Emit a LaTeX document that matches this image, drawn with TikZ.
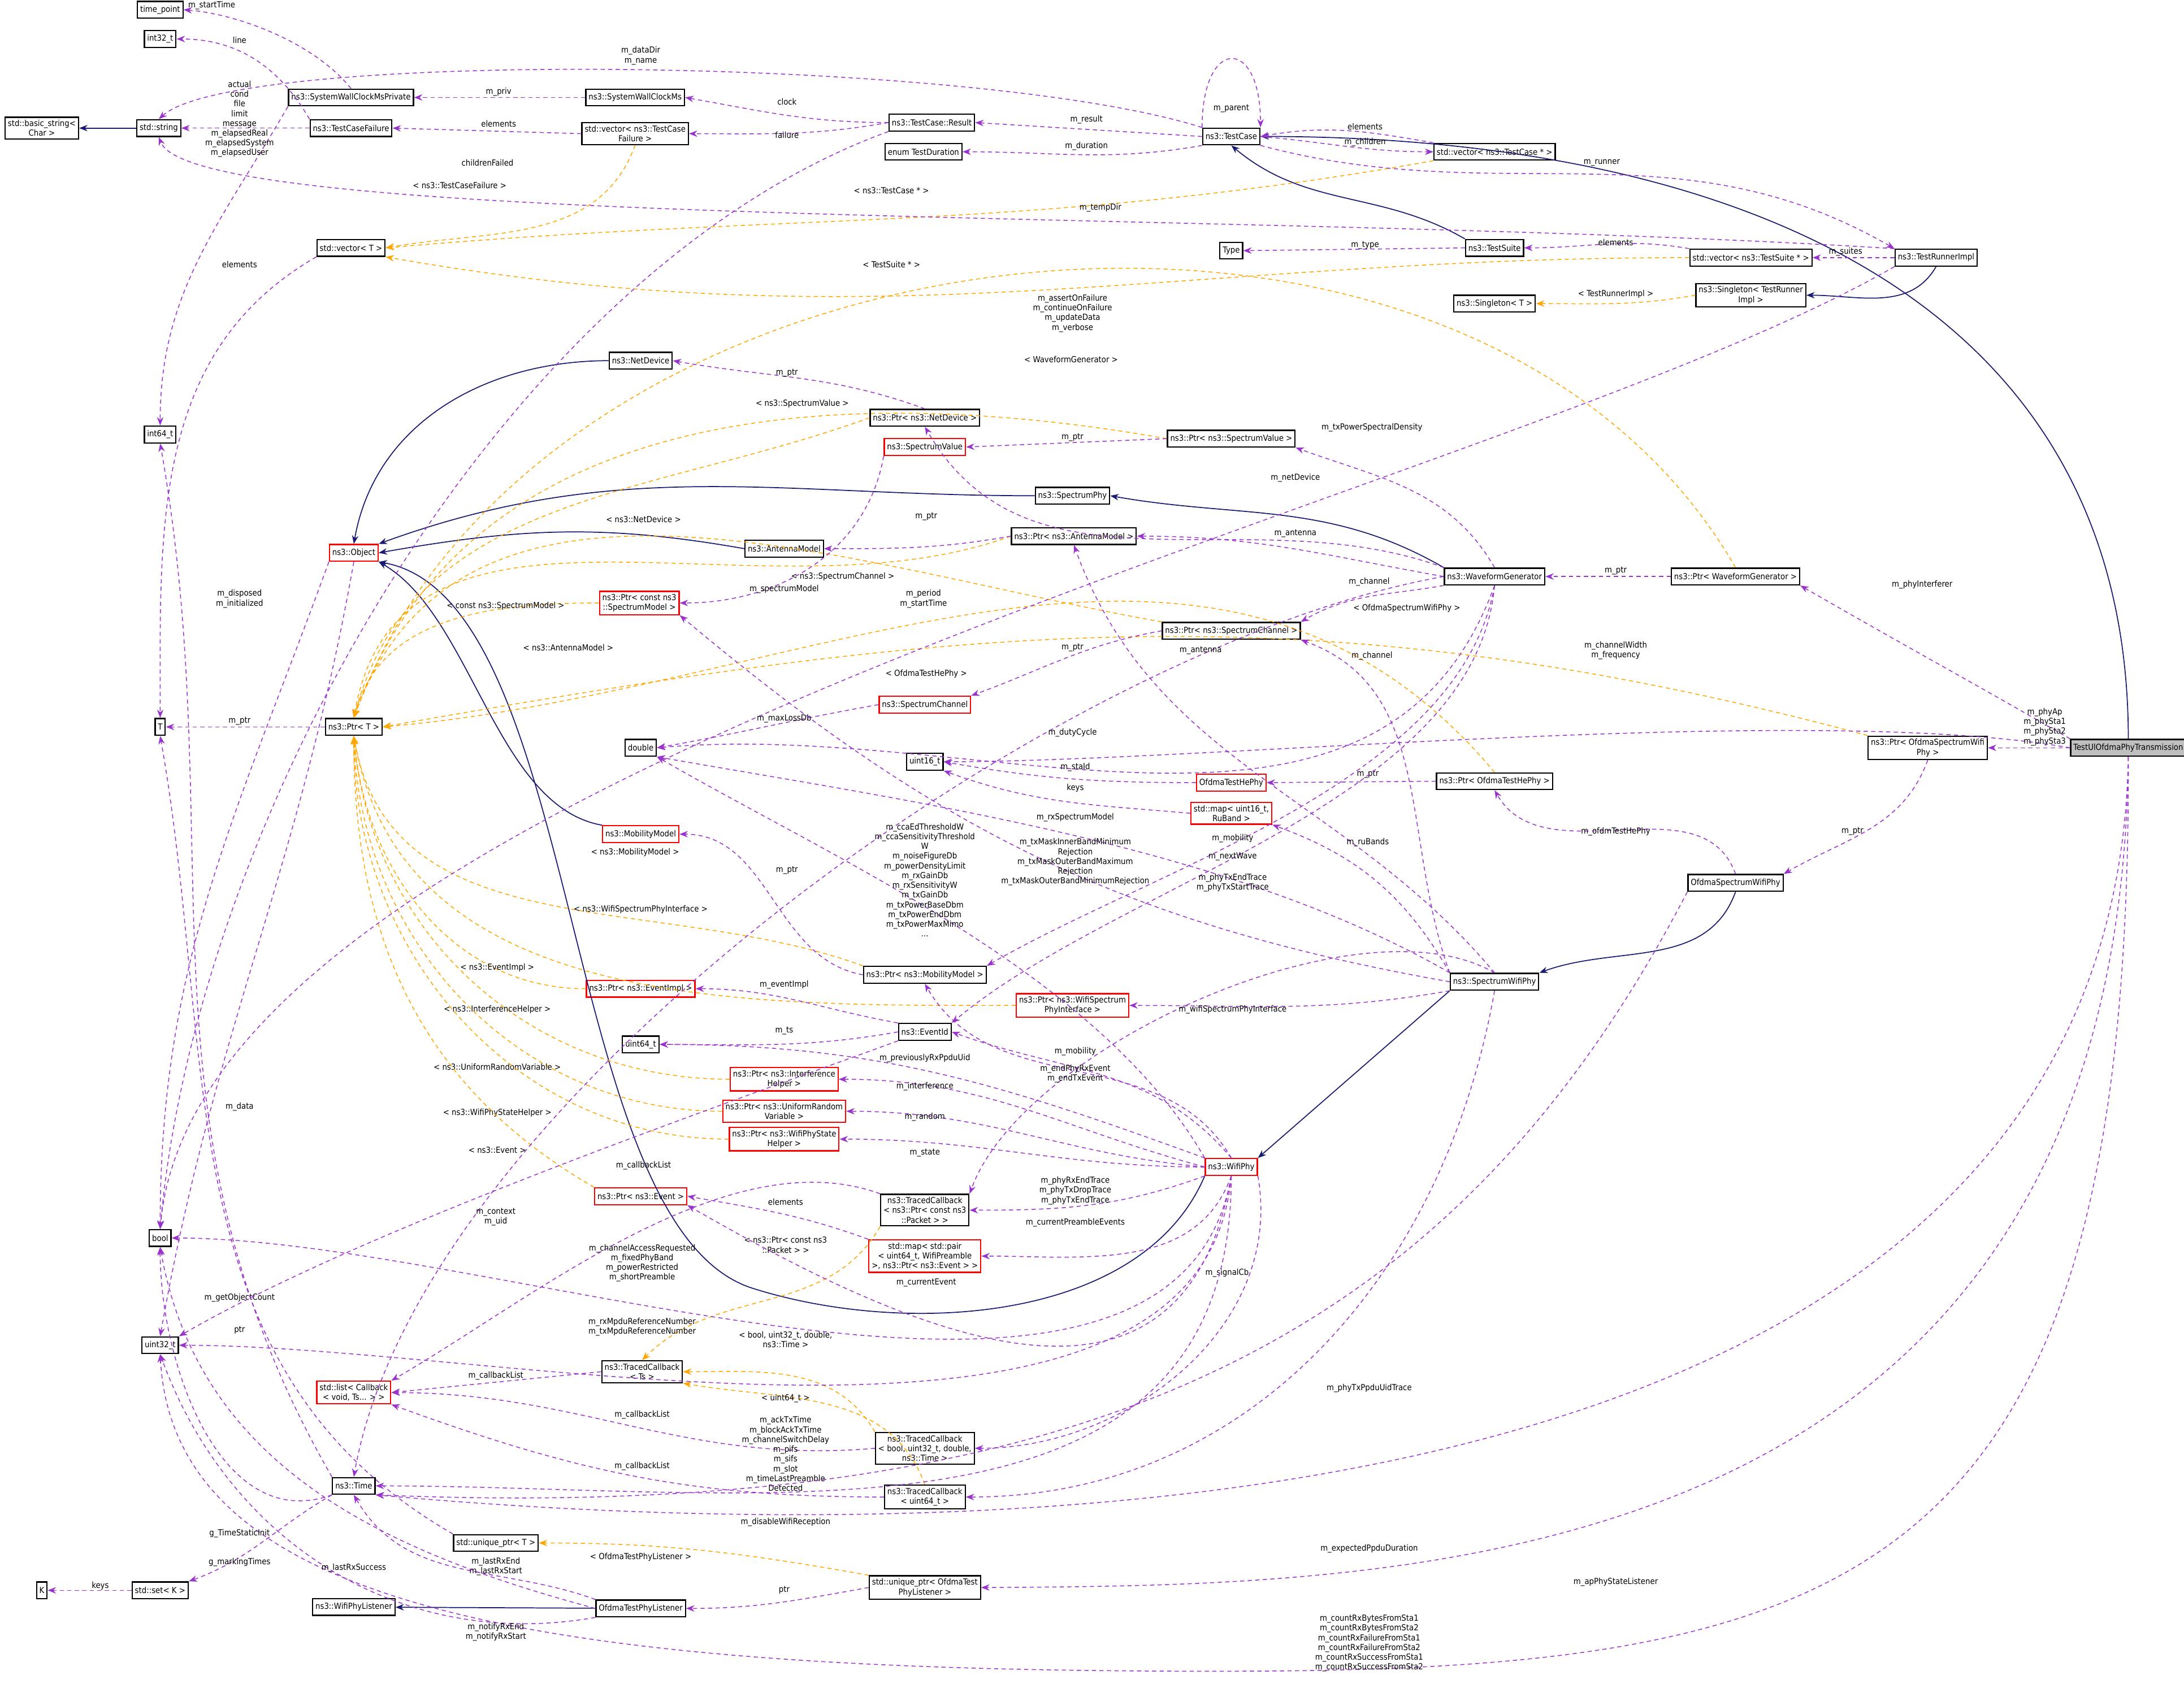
\documentclass[tikz,border=0pt]{standalone}
\usepackage{fontspec}
\setmainfont{DejaVu Sans Condensed}
\usepackage{xcolor}
\usetikzlibrary{arrows.meta}

\definecolor{memc}{HTML}{9A32CD}
\definecolor{tplc}{HTML}{FFA500}
\definecolor{inhc}{HTML}{191970}

\tikzset{
  cls/.style={rectangle,draw=black,line width=0.45pt,fill=white,inner sep=1pt,minimum height=6pt,align=center,font=\fontsize{3.0}{3.5}\selectfont},
  redcls/.style={cls,draw=red},
  rootcls/.style={cls,fill=black!25},
  lbl/.style={align=center,font=\fontsize{3.0}{3.5}\selectfont,inner sep=0.3pt},
  mem/.style={draw=memc,dashed,dash pattern=on 1.5pt off 1.2pt,line width=0.3pt,-{Stealth[length=3pt,width=2.3pt]}},
  tpl/.style={draw=tplc,dashed,dash pattern=on 1.5pt off 1.2pt,line width=0.3pt,-{Stealth[length=3pt,width=2.3pt]}},
  inh/.style={draw=inhc,line width=0.35pt,-{Stealth[length=3pt,width=2.3pt]}}
}

\begin{document}
\begin{tikzpicture}[x=0.5pt,y=-0.5pt]
\useasboundingbox (0,0) rectangle (1568,1209);

\begin{scope}[every node/.style={cls}]
    \node (tpt) at (115,7) {time\_point};
    \node (i32) at (115,28) {int32\_t};
    \node (bstr) at (30,92) {std::basic\_string<\\Char >};
    \node (str) at (114,92) {std::string};
    \node (swcp) at (252,70) {ns3::SystemWallClockMsPrivate};
    \node (tcf) at (252,92) {ns3::TestCaseFailure};
    \node (swc) at (456,70) {ns3::SystemWallClockMs};
    \node (vtcf) at (456,96) {std::vector< ns3::TestCase\\Failure >};
    \node (vt) at (252,178) {std::vector< T >};
    \node (res) at (669,88) {ns3::TestCase::Result};
    \node (dur) at (663,109) {enum TestDuration};
    \node (tc) at (884,98) {ns3::TestCase};
    \node (vtc) at (1073,109) {std::vector< ns3::TestCase * >};
    \node (typ) at (884,180) {Type};
    \node (ts) at (1073,178) {ns3::TestSuite};
    \node (vts) at (1257,185) {std::vector< ns3::TestSuite * >};
    \node (tri) at (1390,185) {ns3::TestRunnerImpl};
    \node (sgtr) at (1257,212) {ns3::Singleton< TestRunner\\Impl >};
    \node (sgt) at (1073,218) {ns3::Singleton< T >};
    \node (nd) at (460,259) {ns3::NetDevice};
    \node (i64) at (115,312) {int64\_t};
    \node (pnd) at (664,300) {ns3::Ptr< ns3::NetDevice >};
    \node[redcls] (sv) at (664,321) {ns3::SpectrumValue};
    \node (psv) at (884,315) {ns3::Ptr< ns3::SpectrumValue >};
    \node (sp) at (770,356) {ns3::SpectrumPhy};
    \node (am) at (563,394) {ns3::AntennaModel};
    \node (pam) at (771,385) {ns3::Ptr< ns3::AntennaModel >};
    \node[redcls] (obj) at (254,397) {ns3::Object};
    \node[redcls] (psm) at (459,433) {ns3::Ptr< const ns3\\::SpectrumModel >};
    \node (wg) at (1073,414) {ns3::WaveformGenerator};
    \node (pwg) at (1246,414) {ns3::Ptr< WaveformGenerator >};
    \node (psc) at (884,453) {ns3::Ptr< ns3::SpectrumChannel >};
    \node[redcls] (sc) at (664,506) {ns3::SpectrumChannel};
    \node (t) at (115,522) {T};
    \node (pt) at (254,522) {ns3::Ptr< T >};
    \node (dbl) at (460,537) {double};
    \node (u16) at (664,547) {uint16\_t};
    \node (posw) at (1384,537) {ns3::Ptr< OfdmaSpectrumWifi\\Phy >};
    \node[rootcls] (tu) at (1528,537) {TestUlOfdmaPhyTransmission};
    \node[redcls] (othp) at (884,562) {OfdmaTestHePhy};
    \node (pothp) at (1073,561) {ns3::Ptr< OfdmaTestHePhy >};
    \node[redcls] (rub) at (884,584) {std::map< uint16\_t,\\RuBand >};
    \node[redcls] (mm) at (460,599) {ns3::MobilityModel};
    \node (osw) at (1246,634) {OfdmaSpectrumWifiPhy};
    \node (pmm) at (664,700) {ns3::Ptr< ns3::MobilityModel >};
    \node (swp) at (1073,705) {ns3::SpectrumWifiPhy};
    \node[redcls] (pei) at (460,710) {ns3::Ptr< ns3::EventImpl >};
    \node[redcls] (pwsi) at (770,722) {ns3::Ptr< ns3::WifiSpectrum\\PhyInterface >};
    \node (u64) at (460,750) {uint64\_t};
    \node (eid) at (664,741) {ns3::EventId};
    \node[redcls] (pih) at (563,775) {ns3::Ptr< ns3::Interference\\Helper >};
    \node[redcls] (purv) at (563,798) {ns3::Ptr< ns3::UniformRandom\\Variable >};
    \node[redcls] (psh) at (563,818) {ns3::Ptr< ns3::WifiPhyState\\Helper >};
    \node[redcls] (wp) at (884,838) {ns3::WifiPhy};
    \node (bool) at (115,889) {bool};
    \node[redcls] (pev) at (460,859) {ns3::Ptr< ns3::Event >};
    \node (tcpk) at (664,869) {ns3::TracedCallback\\< ns3::Ptr< const ns3\\::Packet > >};
    \node[redcls] (mpre) at (664,902) {std::map< std::pair\\< uint64\_t, WifiPreamble\\>, ns3::Ptr< ns3::Event > >};
    \node (u32) at (115,966) {uint32\_t};
    \node (tcts) at (461,985) {ns3::TracedCallback\\< Ts >};
    \node[redcls] (lst) at (254,1000) {std::list< Callback\\< void, Ts... > >};
    \node (tcb) at (664,1040) {ns3::TracedCallback\\< bool, uint32\_t, double,\\ ns3::Time >};
    \node (tcu) at (664,1075) {ns3::TracedCallback\\< uint64\_t >};
    \node (tim) at (254,1067) {ns3::Time};
    \node (upt) at (356,1108) {std::unique\_ptr< T >};
    \node (upl) at (664,1140) {std::unique\_ptr< OfdmaTest\\PhyListener >};
    \node (k) at (30,1142) {K};
    \node (sk) at (115,1142) {std::set< K >};
    \node (wpl) at (254,1154) {ns3::WifiPhyListener};
    \node (otpl) at (460,1155) {OfdmaTestPhyListener};
\end{scope}

% inheritance
\begin{scope}[every path/.style={inh}]
    \draw (str) -- (bstr);
    \draw (tu.north) to[out=90,in=0,looseness=1.1] (tc.east);
    \draw (ts.north west) to[out=150,in=-40] (tc.south);
    \draw (tri.south) to[out=-120,in=0] (sgtr.east);
    \draw (nd.west) to[out=180,in=80] (obj.north);
    \draw (sp.west) to[out=180,in=20] (obj.north east);
    \draw (am.west) to[out=170,in=10] (obj.east);
    \draw (wg.north west) to[out=150,in=-10] (sp.east);
    \draw (mm.north west) to[out=170,in=-30,looseness=0.8] (obj.south east);
    \draw (wp.south west) .. controls (820,950) and (650,960) .. (540,925) .. controls (400,880) and (420,430) .. (obj.south east);
    \draw (swp.south west) -- (wp.north east);
    \draw (osw.south) to[out=-110,in=20] (swp.north east);
    \draw (otpl) -- (wpl);
\end{scope}

% templates
\begin{scope}[every path/.style={tpl}]
    \draw (vtcf.south) to[out=-110,in=10] (vt.east) node[lbl] at (330,133) {< ns3::TestCaseFailure >};
    \draw (vtc.south west) to[out=190,in=5] (vt.east) node[lbl] at (640,137) {< ns3::TestCase * >};
    \draw (vts.west) to[out=180,in=-10] (vt.south east) node[lbl] at (640,190) {< TestSuite * >};
    \draw (sgtr.west) to[out=190,in=0] (sgt.east) node[lbl] at (1160,211) {< TestRunnerImpl >};
    \draw (pwg.north) to[out=120,in=70] (pt.north) node[lbl] at (769,258) {< WaveformGenerator >};
    \draw (psv.west) to[out=170,in=70] (pt.north) node[lbl] at (576,290) {< ns3::SpectrumValue >};
    \draw (pnd.west) to[out=200,in=75] (pt.north) node[lbl] at (462,373) {< ns3::NetDevice >};
    \draw (psc.north west) to[out=170,in=70] (pt.north) node[lbl] at (605,414) {< ns3::SpectrumChannel >};
    \draw (psm.west) to[out=180,in=75] (pt.north) node[lbl] at (363,435) {< const ns3::SpectrumModel >};
    \draw (posw.north west) to[out=165,in=10] (pt.east) node[lbl] at (1010,437) {< OfdmaSpectrumWifiPhy >};
    \draw (pam.west) to[out=200,in=80] (pt.north) node[lbl] at (408,465) {< ns3::AntennaModel >};
    \draw (pothp.north) to[out=130,in=5] (pt.east) node[lbl] at (665,484) {< OfdmaTestHePhy >};
    \draw (pmm.north west) to[out=160,in=-80] (pt.south) node[lbl] at (456,612) {< ns3::MobilityModel >};
    \draw (pwsi.west) to[out=180,in=-80] (pt.south) node[lbl] at (460,653) {< ns3::WifiSpectrumPhyInterface >};
    \draw (pei.west) to[out=180,in=-85] (pt.south) node[lbl] at (357,695) {< ns3::EventImpl >};
    \draw (pih.west) to[out=180,in=-85] (pt.south) node[lbl] at (357,725) {< ns3::InterferenceHelper >};
    \draw (purv.west) to[out=180,in=-88] (pt.south) node[lbl] at (357,766) {< ns3::UniformRandomVariable >};
    \draw (psh.west) to[out=180,in=-90] (pt.south) node[lbl] at (357,799) {< ns3::WifiPhyStateHelper >};
    \draw (pev.north west) to[out=150,in=-90] (pt.south) node[lbl] at (357,826) {< ns3::Event >};
    \draw (tcpk.south west) to[out=-120,in=45] (tcts.north) node[lbl] at (564,894) {< ns3::Ptr< const ns3\\::Packet > >};
    \draw (tcb.north west) to[out=120,in=0] (tcts.east) node[lbl] at (564,962) {< bool, uint32\_t, double,\\ns3::Time >};
    \draw (tcu.north) to[out=110,in=-10] (tcts.south east) node[lbl] at (564,1004) {< uint64\_t >};
    \draw (upl.north west) to[out=170,in=0] (upt.east) node[lbl] at (460,1118) {< OfdmaTestPhyListener >};
\end{scope}

% members
\begin{scope}[every path/.style={mem}]
    \draw (swcp.north) .. controls (225,30) and (170,10) .. (tpt.east) node[lbl] at (152,4) {m\_startTime};
    \draw (tcf.north west) to[out=120,in=0] (i32.east) node[lbl] at (172,29) {line};
    \draw (tc.north west) .. controls (700,40) and (170,35) .. (str.north) node[lbl] at (460,40) {m\_dataDir\\m\_name};
    \draw (tcf.west) -- (str.east) node[lbl] at (172,75) {actual\\cond\\file\\limit\\message};
    \draw (swcp.south west) to[out=-120,in=90] (i64.north) node[lbl] at (172,103) {m\_elapsedReal\\m\_elapsedSystem\\m\_elapsedUser};
    \draw (swc) -- (swcp) node[lbl] at (358,66) {m\_priv};
    \draw (vtcf.west) -- (tcf.east) node[lbl] at (358,89) {elements};
    \draw (res.west) to[out=180,in=-10] (swc.east) node[lbl] at (565,73) {clock};
    \draw (res.west) to[out=190,in=0] (vtcf.east) node[lbl] at (565,97) {failure};
    \draw (res.south west) to[out=200,in=85,looseness=0.8] (bool.north) node[lbl] at (350,117) {childrenFailed};
    \draw (tc.west) -- (res.east) node[lbl] at (780,86) {m\_result};
    \draw (tc.south west) to[out=190,in=0] (dur.east) node[lbl] at (780,105) {m\_duration};
    \draw (tc.north west) to[out=90,in=90,looseness=4] (tc.north east) node[lbl] at (884,78) {m\_parent};
    \draw (vtc.north west) to[out=170,in=10] (tc.east) node[lbl] at (980,91) {elements};
    \draw (tc.east) to[out=-5,in=180] (vtc.west) node[lbl] at (980,102) {m\_children};
    \draw (tc.south east) to[out=-15,in=150] (tri.north west) node[lbl] at (1150,117) {m\_runner};
    \draw (tri.north west) .. controls (900,150) and (140,165) .. (str.south) node[lbl] at (790,149) {m\_tempDir};
    \draw (ts.west) -- (typ.east) node[lbl] at (980,176) {m\_type};
    \draw (vts.north west) to[out=170,in=0] (ts.east) node[lbl] at (1160,174) {elements};
    \draw (tri.west) -- (vts.east) node[lbl] at (1325,181) {m\_suites};
    \draw (tri.south west) to[out=-150,in=85,looseness=0.6] (bool.north) node[lbl] at (770,225) {m\_assertOnFailure\\m\_continueOnFailure\\m\_updateData\\m\_verbose};
    \draw (vt.south west) to[out=-150,in=90] (t.north) node[lbl] at (172,190) {elements};
    \draw (pnd.north) to[out=160,in=-10] (nd.east) node[lbl] at (565,268) {m\_ptr};
    \draw (psv.west) -- (sv.east) node[lbl] at (770,314) {m\_ptr};
    \draw (wg.north) to[out=120,in=-20] (psv.south east) node[lbl] at (985,307) {m\_txPowerSpectralDensity};
    \draw (wg.north west) to[out=160,in=-60] (pnd.south) node[lbl] at (930,343) {m\_netDevice};
    \draw (wg.west) to[out=170,in=0] (pam.east) node[lbl] at (930,383) {m\_antenna};
    \draw (pam.west) to[out=190,in=0] (am.east) node[lbl] at (665,371) {m\_ptr};
    \draw (sv.south west) to[out=-100,in=0] (psm.east) node[lbl] at (563,423) {m\_spectrumModel};
    \draw (obj.south west) to[out=-110,in=90] (bool.north) node[lbl] at (172,430) {m\_disposed\\m\_initialized};
    \draw (obj.south) to[out=-100,in=80] (u32.north) node[lbl] at (172,932) {m\_getObjectCount};
    \draw (wg.south west) to[out=190,in=30] (psc.north east) node[lbl] at (983,418) {m\_channel};
    \draw (pwg.west) -- (wg.east) node[lbl] at (1160,410) {m\_ptr};
    \draw (tu.north west) to[out=150,in=-30] (pwg.south east) node[lbl] at (1380,420) {m\_phyInterferer};
    \draw (wg.west) to[out=190,in=80,looseness=0.7] (tim.north) node[lbl] at (663,430) {m\_period\\m\_startTime};
    \draw (psc.west) to[out=190,in=20] (sc.north east) node[lbl] at (770,465) {m\_ptr};
    \draw (swp.north west) to[out=110,in=-20] (psc.south east) node[lbl] at (985,471) {m\_channel};
    \draw (swp.north) to[out=130,in=-70] (pam.south) node[lbl] at (862,467) {m\_antenna};
    \draw (tu.west) to[out=170,in=0,looseness=0.6] (u16.east) node[lbl] at (1160,467) {m\_channelWidth\\m\_frequency};
    \draw (pt.west) -- (t.east) node[lbl] at (172,518) {m\_ptr};
    \draw (sc.west) to[out=190,in=10] (dbl.east) node[lbl] at (563,516) {m\_maxLossDb};
    \draw (wg.south) to[out=-110,in=5] (dbl.east) node[lbl] at (770,526) {m\_dutyCycle};
    \draw (tu.west) -- (posw.east) node[lbl] at (1468,522) {m\_phyAp\\m\_phySta1\\m\_phySta2\\m\_phySta3};
    \draw (posw.south) to[out=-110,in=30] (osw.north east) node[lbl] at (1330,597) {m\_ptr};
    \draw (othp.west) to[out=180,in=-10] (u16.east) node[lbl] at (772,551) {m\_staId};
    \draw (rub.west) to[out=175,in=-20] (u16.south east) node[lbl] at (772,566) {keys};
    \draw (pothp.west) -- (othp.east) node[lbl] at (982,556) {m\_ptr};
    \draw (osw.north) to[out=110,in=-60] (pothp.south) node[lbl] at (1160,597) {m\_ofdmTestHePhy};
    \draw (swp.north west) to[out=120,in=-20] (rub.south east) node[lbl] at (982,605) {m\_ruBands};
    \draw (wg.south) to[out=-100,in=30,looseness=0.8] (pmm.north east) node[lbl] at (885,602) {m\_mobility};
    \draw (swp.west) to[out=170,in=-40] (psm.south east) node[lbl] at (772,587) {m\_rxSpectrumModel};
    \draw (wg.south) to[out=-95,in=40,looseness=0.8] (eid.north east) node[lbl] at (885,615) {m\_nextWave};
    \draw (wp.north west) to[out=120,in=-30,looseness=0.8] (dbl.south east) node[lbl] at (664,632) {m\_ccaEdThresholdW\\m\_ccaSensitivityThreshold\\W\\m\_noiseFigureDb\\m\_powerDensityLimit\\m\_rxGainDb\\m\_rxSensitivityW\\m\_txGainDb\\m\_txPowerBaseDbm\\m\_txPowerEndDbm\\m\_txPowerMaxMimo\\...};
    \draw (swp.north west) to[out=150,in=-10,looseness=0.8] (dbl.south east) node[lbl] at (772,619) {m\_txMaskInnerBandMinimum\\Rejection\\m\_txMaskOuterBandMaximum\\Rejection\\m\_txMaskOuterBandMinimumRejection};
    \draw (swp.north) to[out=150,in=70,looseness=0.7] (tcpk.north east) node[lbl] at (885,634) {m\_phyTxEndTrace\\m\_phyTxStartTrace};
    \draw (pmm.west) to[out=170,in=0] (mm.east) node[lbl] at (565,625) {m\_ptr};
    \draw (swp.south west) to[out=190,in=0] (pwsi.east) node[lbl] at (885,725) {m\_wifiSpectrumPhyInterface};
    \draw (eid.north west) to[out=170,in=0] (pei.east) node[lbl] at (563,707) {m\_eventImpl};
    \draw (eid.west) to[out=190,in=0] (u64.east) node[lbl] at (563,740) {m\_ts};
    \draw (wp.north) to[out=120,in=-60] (pmm.south) node[lbl] at (772,755) {m\_mobility};
    \draw (wp.north) to[out=130,in=-20] (eid.east) node[lbl] at (772,771) {m\_endPhyRxEvent\\m\_endTxEvent};
    \draw (wp.north west) to[out=160,in=0] (u64.east) node[lbl] at (664,760) {m\_previouslyRxPpduUid};
    \draw (wp.west) to[out=165,in=0] (pih.east) node[lbl] at (664,780) {m\_interference};
    \draw (wp.west) to[out=175,in=0] (purv.east) node[lbl] at (664,802) {m\_random};
    \draw (wp.west) to[out=180,in=0] (psh.east) node[lbl] at (664,828) {m\_state};
    \draw (tcpk.north west) to[out=160,in=30,looseness=0.8] (lst.north east) node[lbl] at (462,837) {m\_callbackList};
    \draw (wp.south west) to[out=200,in=0] (tcpk.east) node[lbl] at (772,855) {m\_phyRxEndTrace\\m\_phyTxDropTrace\\m\_phyTxEndTrace};
    \draw (mpre.north west) to[out=160,in=-10] (pev.east) node[lbl] at (564,863) {elements};
    \draw (wp.south) to[out=-110,in=0] (mpre.east) node[lbl] at (772,878) {m\_currentPreambleEvents};
    \draw (wp.south) to[out=-100,in=-30,looseness=1.3] (pev.south east) node[lbl] at (665,921) {m\_currentEvent};
    \draw (eid.south west) to[out=200,in=30,looseness=0.7] (u32.north east) node[lbl] at (356,874) {m\_context\\m\_uid};
    \draw (wp.south) to[out=-100,in=0,looseness=0.8] (bool.east) node[lbl] at (461,907) {m\_channelAccessRequested\\m\_fixedPhyBand\\m\_powerRestricted\\m\_shortPreamble};
    \draw (wp.south) to[out=-95,in=0,looseness=0.8] (u32.east) node[lbl] at (461,953) {m\_rxMpduReferenceNumber\\m\_txMpduReferenceNumber};
    \draw (upt.north west) to[out=150,in=-80] (t.south) node[lbl] at (172,955) {ptr};
    \draw (tcts.west) -- (lst.east) node[lbl] at (356,988) {m\_callbackList};
    \draw (tcb.west) to[out=185,in=0] (lst.east) node[lbl] at (461,1016) {m\_callbackList};
    \draw (tcu.west) to[out=180,in=-20] (lst.south east) node[lbl] at (461,1053) {m\_callbackList};
    \draw (wp.south east) to[out=-80,in=0] (tcb.east) node[lbl] at (881,914) {m\_signalCb};
    \draw (wp.south) to[out=-90,in=0,looseness=1.1] (tim.east) node[lbl] at (564,1044) {m\_ackTxTime\\m\_blockAckTxTime\\m\_channelSwitchDelay\\m\_pifs\\m\_sifs\\m\_slot\\m\_timeLastPreamble\\Detected};
    \draw (swp.south) to[out=-100,in=0] (tcu.east) node[lbl] at (983,997) {m\_phyTxPpduUidTrace};
    \draw (osw.south west) .. controls (1050,950) and (800,1095) .. (tim.south east) node[lbl] at (564,1093) {m\_disableWifiReception};
    \draw (tu.south) .. controls (1518,1110) and (700,1112) .. (tim.south east) node[lbl] at (983,1112) {m\_expectedPpduDuration};
    \draw (tu.south) .. controls (1522,1140) and (1000,1138) .. (upl.east) node[lbl] at (1160,1136) {m\_apPhyStateListener};
    \draw (tu.south) .. controls (1530,1120) and (1350,1198) .. (900,1200) .. controls (400,1202) and (125,1160) .. (u32.south) node[lbl] at (983,1180) {m\_countRxBytesFromSta1\\m\_countRxBytesFromSta2\\m\_countRxFailureFromSta1\\m\_countRxFailureFromSta2\\m\_countRxSuccessFromSta1\\m\_countRxSuccessFromSta2};
    \draw (upl.west) to[out=190,in=0] (otpl.east) node[lbl] at (563,1142) {ptr};
    \draw (otpl.north west) to[out=160,in=-60] (tim.south) node[lbl] at (356,1125) {m\_lastRxEnd\\m\_lastRxStart};
    \draw (otpl.south west) to[out=190,in=-70] (u32.south) node[lbl] at (356,1172) {m\_notifyRxEnd\\m\_notifyRxStart};
    \draw (otpl.west) to[out=165,in=-80] (bool.south) node[lbl] at (254,1126) {m\_lastRxSuccess};
    \draw (tim.south west) to[out=200,in=-90] (bool.south) node[lbl] at (172,1101) {g\_TimeStaticInit};
    \draw (tim.south west) to[out=-150,in=20] (sk.north east) node[lbl] at (172,1122) {g\_markingTimes};
    \draw (sk.west) -- (k.east) node[lbl] at (72,1139) {keys};
    \draw (tim.north west) to[out=120,in=-80] (i64.south) node[lbl] at (172,795) {m\_data};
\end{scope}

\end{tikzpicture}
\end{document}
